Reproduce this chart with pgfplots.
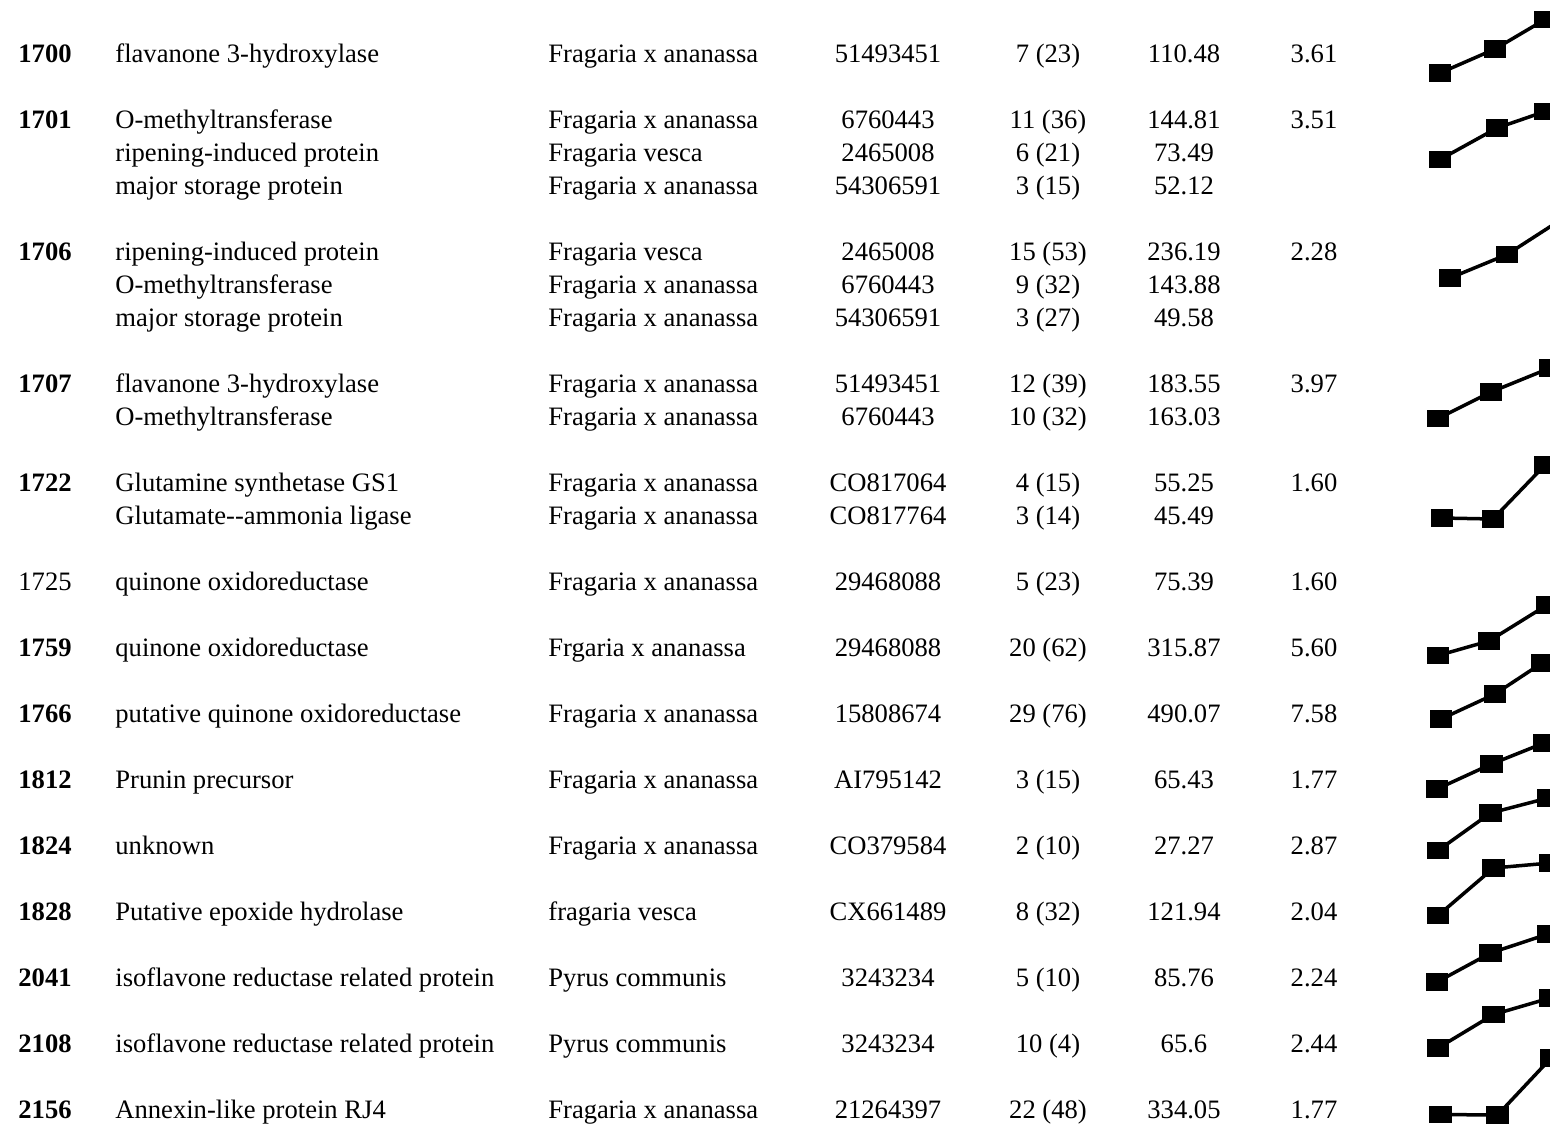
\documentclass[border=0pt]{standalone}
\usepackage{pgfplots}
\pgfplotsset{compat=1.18}
\usepackage{fontspec}
\setmainfont{Liberation Serif}
\newcommand\T[4]{\node[anchor=#1,inner sep=0pt,font=\fontsize{13.3}{15}\selectfont] at (axis cs:#2,#3) {#4};}
\newcommand\Row[8]{%
 \T{base west}{18}{#1}{\bfseries #2}
 \T{base west}{115}{#1}{#3}
 \T{base west}{548}{#1}{#4}
 \T{base}{888}{#1}{#5}
 \T{base}{1048}{#1}{#6}
 \T{base}{1184}{#1}{#7}
 \T{base}{1314}{#1}{#8}}
\begin{document}
\begin{tikzpicture}
\begin{axis}[scale only axis, width=775pt, height=562pt,
  xmin=0, xmax=1550, ymin=0, ymax=1124, y dir=reverse,
  hide axis, clip=false,
  spark/.style={black, line width=1.75pt, mark=square*, mark size=3.6pt,
    mark options={xscale=1.3, solid}}]
% sparklines (pixel coordinates)
\addplot[spark] coordinates {(1440,73) (1495,49) (1545,19.5)};
\addplot[spark] coordinates {(1440,159.5) (1497,128) (1545,111.5)};
\addplot[spark] coordinates {(1450,278) (1507,254.5) (1562,219)};
\addplot[spark] coordinates {(1438,418.5) (1491,392) (1550,368)};
\addplot[spark] coordinates {(1442,518) (1493,519) (1545,465)};
\addplot[spark] coordinates {(1438,655.5) (1489,641) (1547,605)};
\addplot[spark] coordinates {(1441,719) (1495,694) (1542,663)};
\addplot[spark] coordinates {(1437,789) (1491.5,764) (1544,743)};
\addplot[spark] coordinates {(1438,850.5) (1490.5,813) (1548,798)};
\addplot[spark] coordinates {(1438,915.5) (1493.5,868) (1550,863)};
\addplot[spark] coordinates {(1437,982) (1490.5,953) (1548,934)};
\addplot[spark] coordinates {(1438,1048) (1493.5,1014.5) (1550,998)};
\addplot[spark] coordinates {(1440.5,1114.5) (1497.5,1115) (1551,1058)};
% table text
\Row{62}{1700}{flavanone 3-hydroxylase}{Fragaria x ananassa}{51493451}{7 (23)}{110.48}{3.61}
\Row{128}{1701}{O-methyltransferase}{Fragaria x ananassa}{6760443}{11 (36)}{144.81}{3.51}
\Row{161}{}{ripening-induced protein}{Fragaria vesca}{2465008}{6 (21)}{73.49}{}
\Row{194}{}{major storage protein}{Fragaria x ananassa}{54306591}{3 (15)}{52.12}{}
\Row{260}{1706}{ripening-induced protein}{Fragaria vesca}{2465008}{15 (53)}{236.19}{2.28}
\Row{293}{}{O-methyltransferase}{Fragaria x ananassa}{6760443}{9 (32)}{143.88}{}
\Row{326}{}{major storage protein}{Fragaria x ananassa}{54306591}{3 (27)}{49.58}{}
\Row{392}{1707}{flavanone 3-hydroxylase}{Fragaria x ananassa}{51493451}{12 (39)}{183.55}{3.97}
\Row{425}{}{O-methyltransferase}{Fragaria x ananassa}{6760443}{10 (32)}{163.03}{}
\Row{491}{1722}{Glutamine synthetase GS1}{Fragaria x ananassa}{CO817064}{4 (15)}{55.25}{1.60}
\Row{524}{}{Glutamate-{}-ammonia ligase}{Fragaria x ananassa}{CO817764}{3 (14)}{45.49}{}
\Row{590}{\mdseries 1725}{quinone oxidoreductase}{Fragaria x ananassa}{29468088}{5 (23)}{75.39}{1.60}
\Row{656}{1759}{quinone oxidoreductase}{Frgaria x ananassa}{29468088}{20 (62)}{315.87}{5.60}
\Row{722}{1766}{putative quinone oxidoreductase}{Fragaria x ananassa}{15808674}{29 (76)}{490.07}{7.58}
\Row{788}{1812}{Prunin precursor}{Fragaria x ananassa}{AI795142}{3 (15)}{65.43}{1.77}
\Row{854}{1824}{unknown}{Fragaria x ananassa}{CO379584}{2 (10)}{27.27}{2.87}
\Row{920}{1828}{Putative epoxide hydrolase}{fragaria vesca}{CX661489}{8 (32)}{121.94}{2.04}
\Row{986}{2041}{isoflavone reductase related protein}{Pyrus communis}{3243234}{5 (10)}{85.76}{2.24}
\Row{1052}{2108}{isoflavone reductase related protein}{Pyrus communis}{3243234}{10 (4)}{65.6}{2.44}
\Row{1118}{2156}{Annexin-like protein RJ4}{Fragaria x ananassa}{21264397}{22 (48)}{334.05}{1.77}
\end{axis}
\pgfresetboundingbox
\useasboundingbox (current axis.south west) rectangle (current axis.north east);
\end{tikzpicture}
\end{document}
